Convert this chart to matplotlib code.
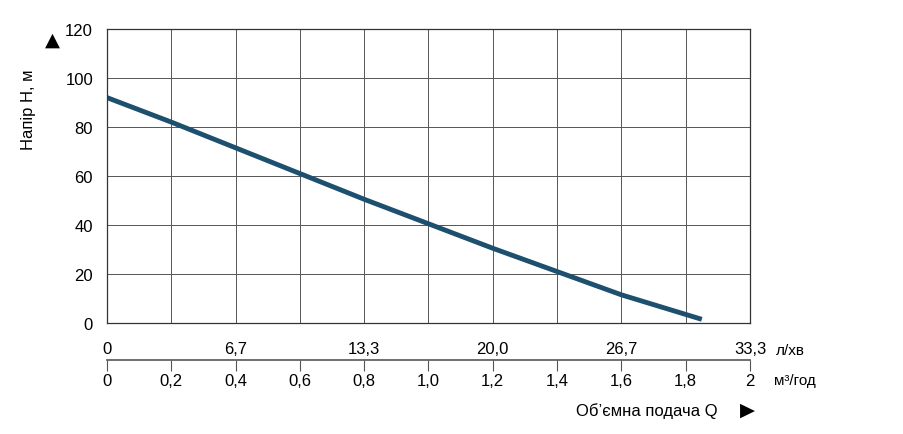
import matplotlib.pyplot as plt

plt.rcParams['font.family'] = ['Liberation Sans', 'DejaVu Sans']

# дані кривої
q_m3h = [0.0, 0.2, 0.4, 0.6, 0.8, 1.0, 1.2, 1.4, 1.6, 1.85]
head_m = [92, 82, 71.5, 61, 50.5, 40.5, 30.5, 21, 11.5, 1.5]

x_ticks = [0, 0.2, 0.4, 0.6, 0.8, 1.0, 1.2, 1.4, 1.6, 1.8, 2.0]
x_labels = ['0', '0,2', '0,4', '0,6', '0,8', '1,0', '1,2', '1,4', '1,6', '1,8', '2']
lmin_ticks = [0, 0.4, 0.8, 1.2, 1.6, 2.0]
lmin_labels = ['0', '6,7', '13,3', '20,0', '26,7', '33,3']
y_ticks = [0, 20, 40, 60, 80, 100, 120]

fig = plt.figure(figsize=(9.04, 4.35), dpi=100)
ax = fig.add_axes([107/904, 1-324/435, (750-107)/904, (324-30)/435])
ax.plot(q_m3h, head_m, color='#1d4f6e', lw=3.5, solid_capstyle='butt')
ax.set_xlim(0, 2)
ax.set_ylim(0, 120)
ax.set_xticks(x_ticks)
ax.set_yticks(y_ticks)
ax.tick_params(length=0, labelbottom=False)
ax.tick_params(axis='y', labelsize=12, pad=10)
ax.grid(True, color='#555555', lw=0.7)
for s in ax.spines.values():
    s.set_color('#333333')
    s.set_linewidth(0.9)
ax.set_ylabel('Напір H, м', fontsize=12)
ax.yaxis.set_label_coords(-0.11, 0.73)
fig.text(52/904, 1-40/435, '▲', fontsize=14, ha='center', va='center', family=['DejaVu Sans'])

# нижня шкала
bx = fig.add_axes([107/904, 1-361/435, (750-107)/904, 0.0001])
bx.set_xlim(0, 2)
bx.set_yticks([])
for k in ['top', 'left', 'right']:
    bx.spines[k].set_visible(False)
bx.spines['bottom'].set_color('#555555')
bx.spines['bottom'].set_linewidth(1.2)
bx.set_xticks(x_ticks)
bx.set_xticklabels(x_labels, fontsize=12)
bx.tick_params(axis='x', length=8, color='#555555', pad=1)
top = bx.secondary_xaxis('top')
top.set_xticks(lmin_ticks)
top.set_xticklabels(lmin_labels, fontsize=12)
top.tick_params(length=0, pad=3)
top.spines['top'].set_visible(False)

fig.text(776/904, 1-351/435, 'л/хв', fontsize=11, va='center')
fig.text(774/904, 1-381/435, 'м³/год', fontsize=11, va='center')
fig.text(718/904, 1-411/435, 'Об\u2019ємна подача Q', fontsize=12, ha='right', va='center')
fig.text(747/904, 1-410/435, '▶', fontsize=14, ha='center', va='center', family=['DejaVu Sans'])

fig.savefig('out.png', dpi=100)
